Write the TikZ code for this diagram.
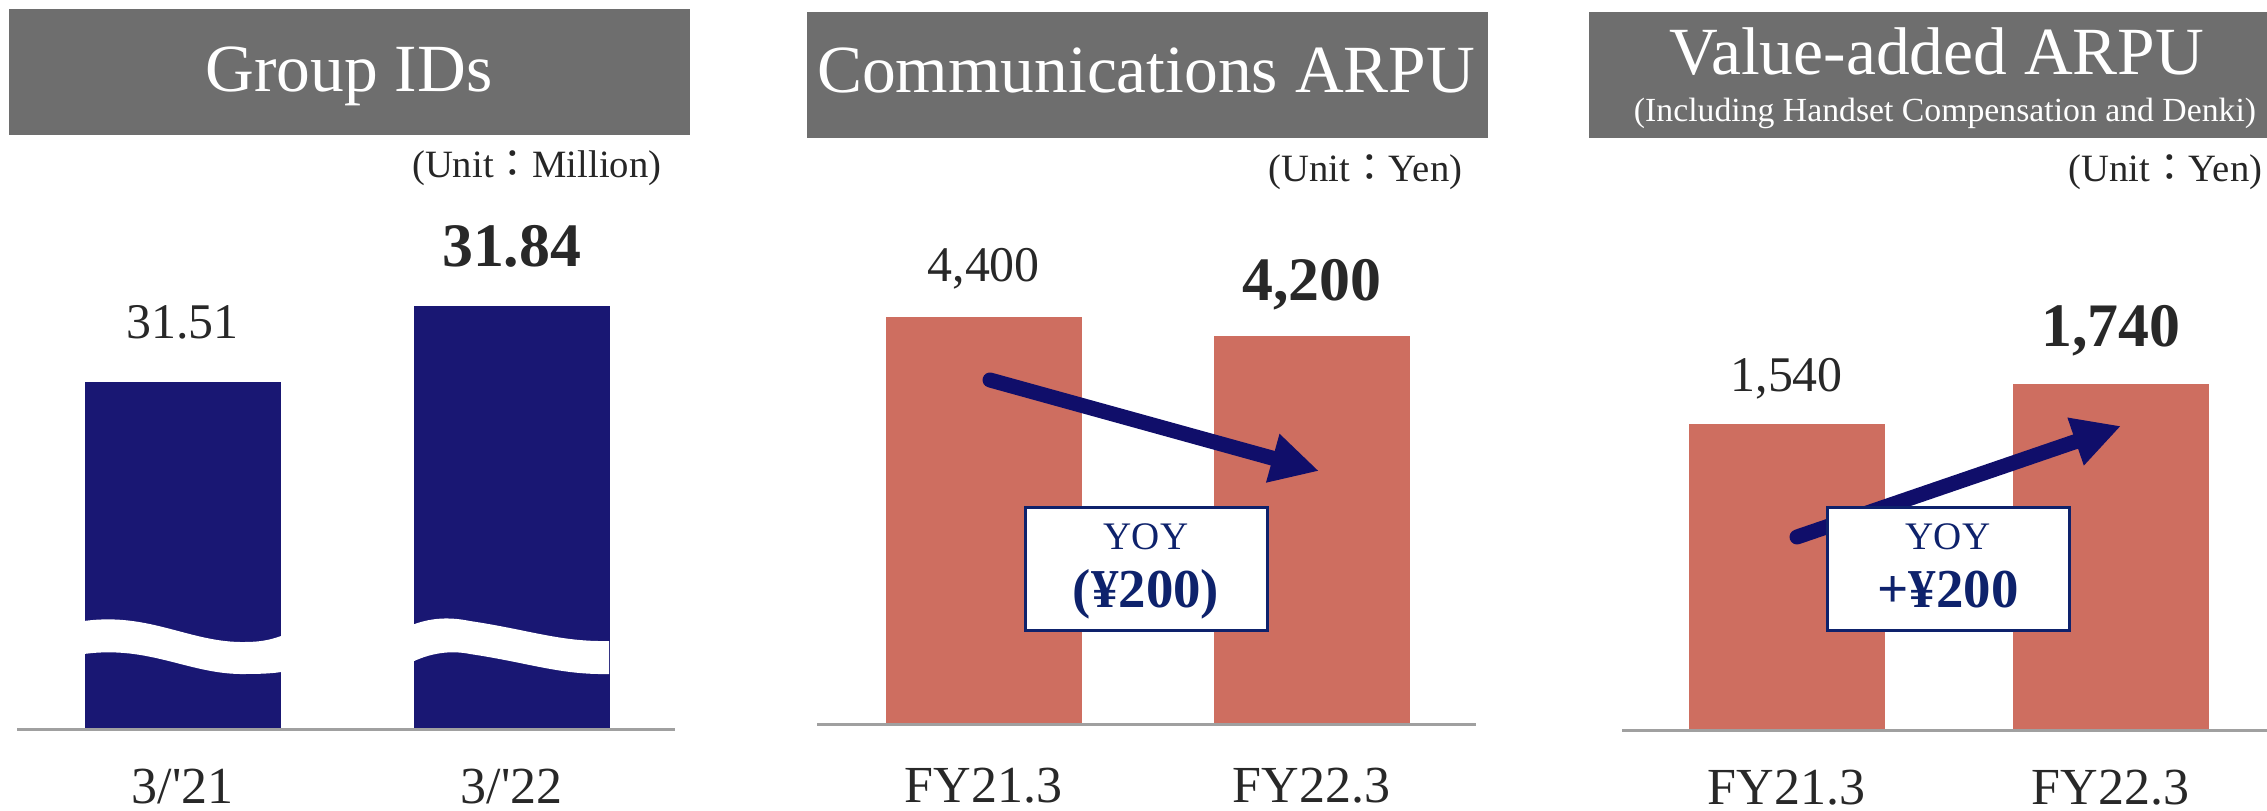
\documentclass[tikz,border=0pt]{standalone}
\usepackage{fontspec}
\setmainfont{Liberation Serif}
\newfontfamily\cjk{Noto Sans CJK JP}
\usetikzlibrary{positioning,arrows.meta}

\definecolor{hdrgray}{RGB}{110,110,110}
\definecolor{idnavy}{RGB}{25,23,115}
\definecolor{arpured}{RGB}{206,110,96}
\definecolor{trendnavy}{RGB}{16,14,106}
\definecolor{yoyblue}{RGB}{14,34,108}
\definecolor{txtgray}{RGB}{40,40,40}
\definecolor{axisgray}{RGB}{160,160,160}

\begin{document}
\begin{tikzpicture}[x=0.1mm,y=-0.1mm,
    hdr/.style={fill=hdrgray, inner sep=0, anchor=north west},
    hdrtxt/.style={text=white, inner sep=0, anchor=base, font=\fontsize{19.2}{22}\selectfont},
    subtxt/.style={text=white, inner sep=0, anchor=base, font=\fontsize{9.6}{11}\selectfont},
    unittxt/.style={text=black!85, inner sep=0, anchor=base east, font=\fontsize{11}{13}\selectfont},
    valtxt/.style={text=txtgray, inner sep=0, font=\fontsize{14.2}{17}\selectfont},
    valbold/.style={valtxt, font=\fontsize{17.6}{21}\selectfont\bfseries},
    axistxt/.style={text=txtgray, inner sep=0, font=\fontsize{14.8}{18}\selectfont},
    idbar/.style={fill=idnavy, inner sep=0, minimum width=19.6mm, anchor=south west},
    arpubar/.style={idbar, fill=arpured},
    yoybox/.style={draw=yoyblue, line width=0.3mm, fill=white, minimum width=24.2mm, minimum height=12.3mm, inner sep=0},
    yoytxt/.style={text=yoyblue, inner sep=0, font=\fontsize{11.1}{13}\selectfont},
    yoyval/.style={yoytxt, font=\fontsize{15.6}{18}\selectfont\bfseries},
    trend/.style={draw=trendnavy, line width=1.5mm, line cap=round, -{Triangle[length=4.8mm,width=4.7mm]}},
    axisline/.style={draw=axisgray, line width=0.3mm}]
\useasboundingbox (0,0) rectangle (2267,811);

% headers
\node[hdr, minimum width=68.1mm, minimum height=12.6mm] (hdrA) at (8,8) {};
\node[hdr, minimum width=68.1mm, minimum height=12.6mm] (hdrB) at (806,11) {};
\node[hdr, minimum width=67.9mm, minimum height=12.6mm] (hdrC) at (1588,11) {};
\node[hdrtxt] (ttlA) at (349,92) {Group IDs};
\node[hdrtxt] (ttlB) at (1146,93) {Communications ARPU};
\node[hdrtxt] (ttlC) at (1937,75) {Value-added ARPU};
\node[subtxt] (subC) at (1945,122) {(Including Handset Compensation and Denki)};

\node[unittxt] (unitA) at (662,178) {(Unit{\cjk ：}Million)};
\node[unittxt] (unitB) at (1463,182) {(Unit{\cjk ：}Yen)};
\node[unittxt] (unitC) at (2263,182) {(Unit{\cjk ：}Yen)};

% bars
\node[idbar, minimum height=34.6mm] (barA1) at (84,729) {};
\node[idbar, minimum height=42.2mm] (barA2) at (413,729) {};
\node[arpubar, minimum height=40.6mm] (barB1) at (885,724) {};
\node[arpubar, minimum height=38.7mm] (barB2) at (1213,724) {};
\node[arpubar, minimum height=30.5mm] (barC1) at (1688,730) {};
\node[arpubar, minimum height=34.5mm] (barC2) at (2012,730) {};

% break in the id bars
\fill[white] (84,621) .. controls (150,612) and (190,643) .. (245,642)
  .. controls (265,642) and (275,638) .. (281,636) -- (281,672)
  .. controls (275,673) and (265,674) .. (245,674)
  .. controls (190,675) and (150,645) .. (84,654) -- cycle;
\fill[white] (412,625) .. controls (435,616) and (455,618) .. (470,621)
  .. controls (530,630) and (560,642) .. (609,641) -- (609,674)
  .. controls (560,675) and (530,663) .. (470,654)
  .. controls (455,651) and (435,651) .. (412,662) -- cycle;

\draw[axisline] (17,729) -- (675,729);
\draw[axisline] (817,724) -- (1476,724);
\draw[axisline] (1622,730) -- (2267,730);

% values
\node[valtxt, above=4.3mm of barA1.north, anchor=base] (valA1) {31.51};
\node[valbold, above=3.9mm of barA2.north, anchor=base] (valA2) {31.84};
\node[valtxt, above=3.5mm of barB1.north, anchor=base] (valB1) {4,400};
\node[valbold, above=3.5mm of barB2.north, anchor=base] (valB2) {4,200};
\node[valtxt, above=3.2mm of barC1.north, anchor=base] (valC1) {1,540};
\node[valbold, above=3.7mm of barC2.north, anchor=base] (valC2) {1,740};

% axis labels
\node[axistxt, below=7.4mm of barA1.south, anchor=base] (catA1) {3/\textquotesingle 21};
\node[axistxt, below=7.4mm of barA2.south, anchor=base] (catA2) {3/\textquotesingle 22};
\node[axistxt, below=7.8mm of barB1.south, anchor=base] (catB1) {FY21.3};
\node[axistxt, below=7.8mm of barB2.south, anchor=base] (catB2) {FY22.3};
\node[axistxt, below=7.4mm of barC1.south, anchor=base] (catC1) {FY21.3};
\node[axistxt, below=7.4mm of barC2.south, anchor=base] (catC2) {FY22.3};

% trend arrows
\coordinate (comS) at (990,380);
\coordinate (comT) at (1319,471);
\coordinate (addS) at (1797,537);
\coordinate (addT) at (2121,426);
\draw[trend] (comS) -- (comT);
\draw[trend] (addS) -- (addT);

% yoy boxes
\node[yoybox] (yoyB) at (1146,568.5) {};
\node[yoytxt, above=1.95mm of yoyB.center, anchor=base] (yoyBt) {YOY};
\node[yoyval, below=3.85mm of yoyB.center, anchor=base] (yoyBv) {(¥200)};
\node[yoybox] (yoyC) at (1948,568.5) {};
\node[yoytxt, above=1.95mm of yoyC.center, anchor=base] (yoyCt) {YOY};
\node[yoyval, below=3.85mm of yoyC.center, anchor=base] (yoyCv) {+¥200};
\end{tikzpicture}
\end{document}
